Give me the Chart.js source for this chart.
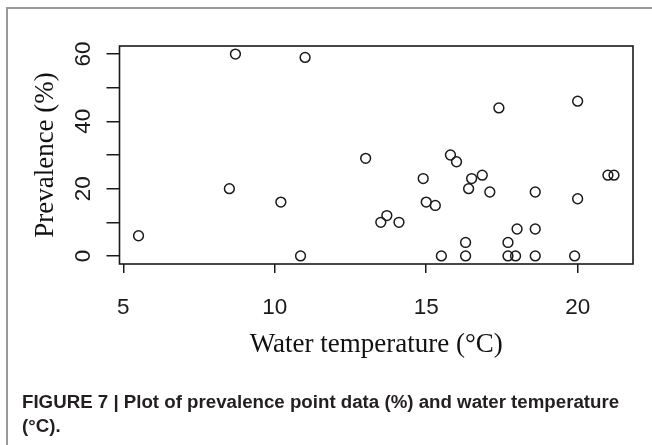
<!DOCTYPE html>
<html><head><meta charset="utf-8">
<script src="https://cdn.jsdelivr.net/npm/chart.js@4"></script>
<style>
html,body{margin:0;padding:0;background:#fff;width:652px;height:445px;overflow:hidden;}
#frame{position:absolute;left:6px;top:7px;width:720px;height:520px;border:2px solid #9a9a9a;box-sizing:border-box;}
#c{position:absolute;left:0;top:0;}
#cap{position:absolute;left:22px;top:389.5px;font:bold 18.7px "Liberation Sans",Arial,sans-serif;line-height:24px;color:#231f20;white-space:nowrap;}
</style></head><body>
<div id="frame"></div>
<canvas id="c" width="652" height="445"></canvas>
<div id="cap">FIGURE 7 | Plot of prevalence point data (%) and water temperature<br>(°C).</div>
<script>
const temperature = [5.5, 8.7, 11.0, 8.5, 10.2, 10.85, 13.0, 13.5, 13.7, 14.1, 14.9, 15.0, 15.3, 15.5, 15.8, 16.0, 16.3, 16.3, 16.4, 16.5, 16.85, 17.1, 17.4, 17.7, 17.7, 17.95, 18.0, 18.6, 18.6, 18.6, 19.9, 20.0, 20.0, 21.0, 21.2];
const prevalence  = [6, 60, 59, 20, 16, 0, 29, 10, 12, 10, 23, 16, 15, 0, 30, 28, 4, 0, 20, 23, 24, 19, 44, 4, 0, 0, 8, 19, 8, 0, 0, 46, 17, 24, 24];
const xTickValues = [5, 10, 15, 20];
const yTickValues = [0, 10, 20, 30, 40, 50, 60];
const yTickLabels = ['0', '', '20', '', '40', '', '60'];
const xTitle = 'Water temperature (°C)';
const yTitle = 'Prevalence (%)';

const points = temperature.map((t, i) => ({x: t, y: prevalence[i]}));

const boxAndLabels = {
  id: 'boxAndLabels',
  afterDraw(chart) {
    const {ctx, chartArea: a} = chart;
    const y = chart.scales.y;
    ctx.save();
    ctx.strokeStyle = '#1a1a1a';
    ctx.lineWidth = 1.6;
    ctx.strokeRect(a.left, a.top, a.right - a.left, a.bottom - a.top);
    ctx.fillStyle = '#1a1a1a';
    ctx.font = '22.5px "Liberation Sans", Arial, sans-serif';
    ctx.textAlign = 'center';
    ctx.textBaseline = 'middle';
    yTickValues.forEach((v, i) => {
      if (!yTickLabels[i]) return;
      const py = y.getPixelForValue(v);
      ctx.save();
      ctx.translate(84, py);
      ctx.rotate(-Math.PI / 2);
      ctx.fillText(yTickLabels[i], 0, 0);
      ctx.restore();
    });
    ctx.restore();
  }
};

new Chart(document.getElementById('c'), {
  type: 'scatter',
  data: {
    datasets: [{
      data: points,
      pointStyle: 'circle',
      pointRadius: 4.9,
      pointHoverRadius: 4.9,
      borderWidth: 1.5,
      borderColor: '#1a1a1a',
      backgroundColor: 'rgba(0,0,0,0)'
    }]
  },
  options: {
    responsive: false,
    animation: false,
    events: [],
    layout: {padding: {left: 0, top: 46, right: 19, bottom: 0}},
    plugins: {legend: {display: false}, tooltip: {enabled: false}},
    scales: {
      x: {
        type: 'linear',
        min: 4.872, max: 21.828,
        afterBuildTicks: s => { s.ticks = xTickValues.map(v => ({value: v})); },
        afterFit: s => { s.height = 181; },
        border: {display: false},
        grid: {drawOnChartArea: false, drawTicks: true, tickLength: 9, color: '#1a1a1a', lineWidth: 1.5},
        ticks: {
          autoSkip: false, maxRotation: 0, minRotation: 0, padding: 21,
          color: '#1a1a1a',
          font: {family: '"Liberation Sans", Arial, sans-serif', size: 22.5}
        },
        title: {
          display: true, text: xTitle, color: '#111',
          font: {family: '"Liberation Serif", "Times New Roman", serif', size: 27},
          padding: {top: 0, bottom: 84}
        }
      },
      y: {
        type: 'linear',
        min: -2.4, max: 62.4,
        afterBuildTicks: s => { s.ticks = yTickValues.map(v => ({value: v})); },
        afterFit: s => { s.width = 119.5; },
        border: {display: false},
        grid: {drawOnChartArea: false, drawTicks: true, tickLength: 13, color: '#1a1a1a', lineWidth: 1.5},
        ticks: {display: false},
        title: {
          display: true, text: yTitle, color: '#111',
          font: {family: '"Liberation Serif", "Times New Roman", serif', size: 27},
          padding: {top: 30, bottom: 0}
        }
      }
    }
  },
  plugins: [boxAndLabels]
});
</script>
</body></html>
